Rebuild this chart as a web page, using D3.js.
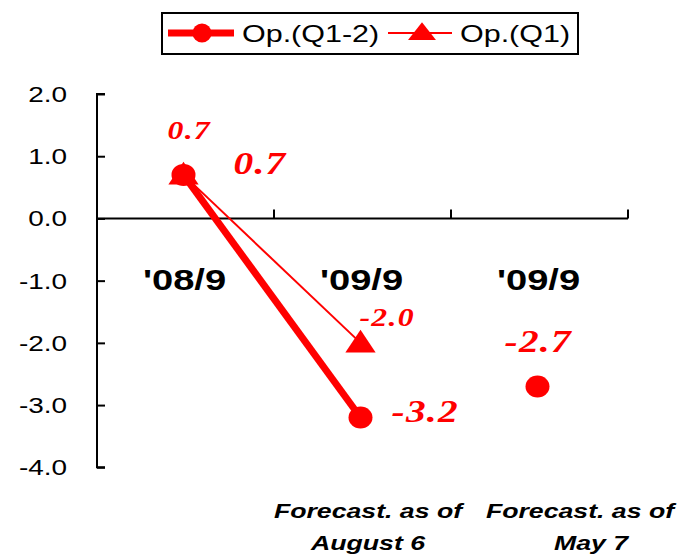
<!DOCTYPE html>
<html>
<head>
<meta charset="utf-8">
<script src="https://cdn.jsdelivr.net/npm/d3@7"></script>
<style>
  html, body { margin: 0; padding: 0; background: #fff; }
  svg { display: block; }
</style>
</head>
<body>
<svg id="chart" width="679" height="557"></svg>
<script>
// Data
const categories = ["'08/9", "'09/9", "'09/9"];
const seriesNames = ["Op.(Q1-2)", "Op.(Q1)"];
const q12Values = [0.7, -3.2, -2.7];
const q1Values = [0.7, -2.0, null];
const q12Linked = [0, 1];          // points joined by the Q1-2 line
const yTicks = [2, 1, 0, -1, -2, -3, -4];
const footnotes = [null, ["Forecast. as of", "August 6"], ["Forecast. as of", "May 7"]];

// Layout
const RED = "#ff0000";
const SX = 1.27;                   // horizontal text stretch
const q12LabelOffsets = [[50, -1], [31, 4], [-33, -34]];
const q1LabelOffsets = [[-16, -36], [-1, -17]];
const footCenters = [null, [368, 368], [580, 591]];

const svg = d3.select("#chart");

const x = d3.scaleBand().domain(d3.range(categories.length)).range([97, 628]);
const y = d3.scaleLinear().domain([-4, 2]).range([467.3, 94]);
const cx = i => x(i) + x.bandwidth() / 2 - 2;

function put(sel, px, py) {
  return sel.attr("transform", `translate(${px},${py}) scale(${SX},1)`);
}

// Y axis (ticks pointing inward)
const yAxis = svg.append("g")
  .attr("transform", "translate(97,0)")
  .call(d3.axisRight(y).tickValues(yTicks).tickSize(8).tickFormat(""));
yAxis.select(".domain").attr("d", `M8,${y(2)}H0V${y(-4)}H8`);
yAxis.selectAll("path, line").attr("stroke", "#000").attr("stroke-width", 2);

svg.append("g").selectAll("text")
  .data(yTicks)
  .join("text")
  .each(function (d) { put(d3.select(this), 67, y(d) + 8); })
  .attr("text-anchor", "end")
  .attr("font-family", "Liberation Sans, Arial, sans-serif")
  .attr("font-size", 22)
  .attr("fill", "#000")
  .text(d => d.toFixed(1));

// X axis at zero with upward ticks at band boundaries
const xAxis = svg.append("g").attr("stroke", "#000").attr("stroke-width", 2);
xAxis.append("line")
  .attr("x1", x.range()[0]).attr("x2", x.range()[1])
  .attr("y1", y(0)).attr("y2", y(0));
xAxis.selectAll("line.tick")
  .data(d3.range(1, categories.length + 1))
  .join("line")
  .attr("class", "tick")
  .attr("x1", i => x.range()[0] + i * x.step())
  .attr("x2", i => x.range()[0] + i * x.step())
  .attr("y1", y(0)).attr("y2", y(0) - 9);

// Category labels
svg.append("g").selectAll("text")
  .data(categories)
  .join("text")
  .each(function (d, i) { put(d3.select(this), cx(i) + 1, 290); })
  .attr("text-anchor", "middle")
  .attr("font-family", "Liberation Sans, Arial, sans-serif")
  .attr("font-weight", "bold")
  .attr("font-size", 30)
  .attr("fill", "#000")
  .text(d => d);

// Footnotes under the forecast categories
const foot = svg.append("g");
footnotes.forEach((lines, i) => {
  if (!lines) return;
  lines.forEach((t, k) => {
    put(foot.append("text"), footCenters[i][k], 518 + k * 32)
      .attr("text-anchor", "middle")
      .attr("font-family", "Liberation Sans, Arial, sans-serif")
      .attr("font-weight", "bold")
      .attr("font-style", "italic")
      .attr("font-size", 21)
      .attr("fill", "#000")
      .text(t);
  });
});

// Q1 series: thin line with triangles
const triangle = d3.symbol().type(d3.symbolTriangle).size(300);
const q1Pts = q1Values.map((v, i) => ({ i, v })).filter(d => d.v != null);
svg.append("path")
  .datum(q1Pts)
  .attr("fill", "none")
  .attr("stroke", RED)
  .attr("stroke-width", 2)
  .attr("d", d3.line().x(d => cx(d.i)).y(d => y(d.v)));
svg.append("g").selectAll("path")
  .data(q1Pts)
  .join("path")
  .attr("d", triangle)
  .attr("transform", d => `translate(${cx(d.i)},${y(d.v) + 2}) scale(1.15,1)`)
  .attr("fill", RED);

// Q1-2 series: thick line, circles
const q12Pts = q12Values.map((v, i) => ({ i, v }));
svg.append("path")
  .datum(q12Pts.filter(d => q12Linked.includes(d.i)))
  .attr("fill", "none")
  .attr("stroke", RED)
  .attr("stroke-width", 7)
  .attr("d", d3.line().x(d => cx(d.i)).y(d => y(d.v)));
svg.append("g").selectAll("ellipse")
  .data(q12Pts)
  .join("ellipse")
  .attr("cx", d => cx(d.i))
  .attr("cy", d => y(d.v))
  .attr("rx", 12)
  .attr("ry", 11)
  .attr("fill", RED);

// Value labels
const labelFont = "Liberation Serif, 'Times New Roman', serif";
svg.append("g").selectAll("text")
  .data(q1Pts)
  .join("text")
  .each(function (d, k) {
    put(d3.select(this), cx(d.i) + q1LabelOffsets[k][0], y(d.v) + q1LabelOffsets[k][1]);
  })
  .attr("font-family", labelFont)
  .attr("font-weight", "bold")
  .attr("font-style", "italic")
  .attr("font-size", 25)
  .attr("letter-spacing", 1)
  .attr("fill", RED)
  .text(d => d.v.toFixed(1));

svg.append("g").selectAll("text")
  .data(q12Pts)
  .join("text")
  .each(function (d, k) {
    put(d3.select(this), cx(d.i) + q12LabelOffsets[k][0], y(d.v) + q12LabelOffsets[k][1]);
  })
  .attr("font-family", labelFont)
  .attr("font-weight", "bold")
  .attr("font-style", "italic")
  .attr("font-size", 31)
  .attr("letter-spacing", 1)
  .attr("fill", RED)
  .text(d => d.v.toFixed(1));

// Legend
const legend = svg.append("g");
legend.append("rect")
  .attr("x", 162).attr("y", 13).attr("width", 416).attr("height", 41)
  .attr("fill", "#fff").attr("stroke", "#000").attr("stroke-width", 2);

legend.append("line")
  .attr("x1", 168).attr("x2", 234).attr("y1", 33).attr("y2", 33)
  .attr("stroke", RED).attr("stroke-width", 7);
legend.append("circle")
  .attr("cx", 202).attr("cy", 33).attr("r", 9.5).attr("fill", RED);
put(legend.append("text"), 242, 42)
  .attr("font-family", "Liberation Sans, Arial, sans-serif")
  .attr("font-size", 24)
  .attr("fill", "#000")
  .text(seriesNames[0]);

legend.append("line")
  .attr("x1", 388).attr("x2", 452).attr("y1", 33).attr("y2", 33)
  .attr("stroke", RED).attr("stroke-width", 2);
legend.append("path")
  .attr("d", d3.symbol().type(d3.symbolTriangle).size(200))
  .attr("transform", "translate(422,34) scale(1.3,0.95)")
  .attr("fill", RED);
put(legend.append("text"), 460, 42)
  .attr("font-family", "Liberation Sans, Arial, sans-serif")
  .attr("font-size", 24)
  .attr("fill", "#000")
  .text(seriesNames[1]);
</script>
</body>
</html>
